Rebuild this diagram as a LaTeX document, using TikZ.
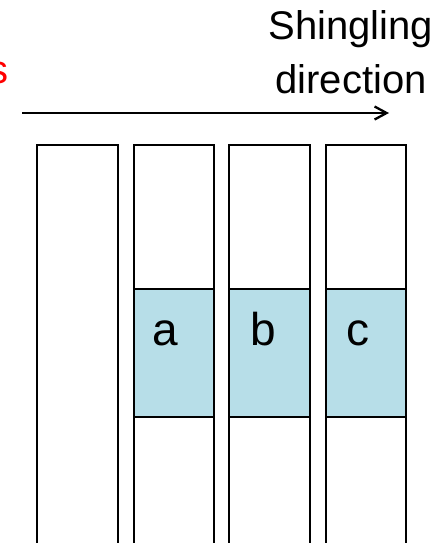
\documentclass[tikz,border=0pt]{standalone}
\usepackage{fontspec}
\setmainfont{Liberation Sans}
\usetikzlibrary{arrows.meta}
\definecolor{aqua}{HTML}{B7DEE8}
\begin{document}
\begin{tikzpicture}[x=1pt,y=-1pt,
  stripbox/.style={draw=black,line width=2.8pt,fill=white},
  bandbox/.style={draw=black,line width=2.8pt,fill=aqua},
  lbl/.style={inner sep=0pt,anchor=base,font=\fontsize{46}{52}\selectfont},
  captext/.style={inner sep=0pt,align=center,font=\fontsize{40}{53.5}\selectfont}]
\useasboundingbox (0,0) rectangle (447,543);
% four vertical strips running off the bottom edge
\draw[stripbox] (37,145) rectangle (118,560);
\draw[stripbox] (134,145) rectangle (214,560);
\draw[stripbox] (229,145) rectangle (310,560);
\draw[stripbox] (326,145) rectangle (406,560);
% shaded bands
\draw[bandbox] (134,289) rectangle (214,417);
\draw[bandbox] (229,289) rectangle (310,417);
\draw[bandbox] (326,289) rectangle (406,417);
\node[lbl] (a) at (165.5,345) {a};
\node[lbl] (b) at (263.5,345) {b};
\node[lbl] (c) at (357.5,345) {c};
% direction arrow and caption (base anchor sits on the last line)
\coordinate (arrS) at (22,113);
\coordinate (arrE) at (389,113);
\draw[line width=2.3pt,-{Straight Barb[length=12pt,width=13pt,line width=2.3pt]}] (arrS) -- (arrE);
\node[captext,anchor=base] (dir) at (351,93) {Shingling\\direction};
\node[inner sep=0pt,anchor=base east,text=red,font=\fontsize{40}{48}\selectfont] (s) at (9,83) {s};
\end{tikzpicture}
\end{document}
